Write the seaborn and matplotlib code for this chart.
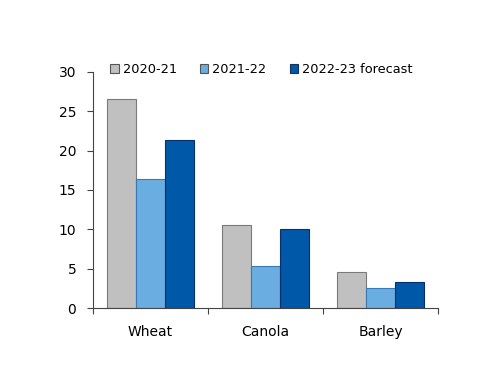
import matplotlib
matplotlib.use("Agg")
import matplotlib.pyplot as plt
import seaborn as sns
import pandas as pd

# Valores
crops = ["Wheat", "Canola", "Barley"]
seasons = ["2020-21", "2021-22", "2022-23 forecast"]
vals_2020_21 = [26.5, 10.5, 4.6]
vals_2021_22 = [16.4, 5.4, 2.5]
vals_2022_23 = [21.3, 10.0, 3.3]
colors = ["#c0c0c0", "#6aade0", "#0058a8"]
edges = ["#7a7a7a", "#3b79b3", "#0b2f6b"]

sns.set_theme(style="white")
plt.rcParams["font.family"] = ["DejaVu Sans"]
plt.rcParams["text.color"] = "black"

df = pd.DataFrame({
    "Crop": crops * 3,
    "Season": [s for s in seasons for _ in crops],
    "Value": vals_2020_21 + vals_2021_22 + vals_2022_23,
})

fig = plt.figure(figsize=(5.0, 3.86), dpi=100)
ax = fig.add_axes([0.186, 0.202, 0.69, 0.612])

sns.barplot(data=df, x="Crop", y="Value", hue="Season", order=crops,
            hue_order=seasons, palette=colors, width=0.75, ax=ax,
            linewidth=0.8, saturation=1)

# borde de cada serie
for cont, ec in zip(ax.containers, edges):
    for bar in cont:
        bar.set_edgecolor(ec)

ax.set_xlim(-0.5, 2.5)
ax.set_ylim(0, 30)
ax.set_yticks(range(0, 31, 5))
ax.set_xlabel("")
ax.set_ylabel("")
sns.despine(ax=ax)
for s in ["left", "bottom"]:
    ax.spines[s].set_color("#444444")
    ax.spines[s].set_linewidth(0.8)

# ticks en los límites de categoría
ax.set_xticks([-0.5, 0.5, 1.5, 2.5], minor=True)
ax.tick_params(axis="x", which="major", length=0, labelsize=10, pad=12, colors="black")
ax.tick_params(axis="x", which="minor", length=4, width=0.8, color="#444444", bottom=True)
ax.tick_params(axis="y", length=4, width=0.8, color="#444444", left=True,
               labelsize=10, labelcolor="black", pad=8)

leg = ax.legend(loc="center left", bbox_to_anchor=(0.035, 1.01), ncol=3, frameon=False,
                fontsize=9.3, handlelength=0.65, handleheight=0.65, handletextpad=0.3,
                columnspacing=1.8, borderaxespad=0)
for h, ec in zip(leg.legend_handles, ["#555555", "#555555", "#1a2f5a"]):
    h.set_edgecolor(ec)
    h.set_linewidth(0.8)
for t in leg.get_texts():
    t.set_color("black")

fig.savefig("out.png", dpi=100)
